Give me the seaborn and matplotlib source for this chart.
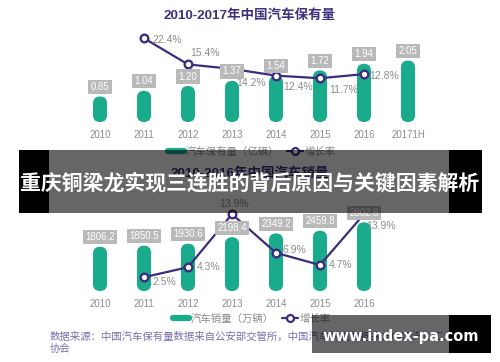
import numpy as np
import pandas as pd
import matplotlib
matplotlib.use("Agg")
import matplotlib.pyplot as plt
import seaborn as sns
from matplotlib.patches import FancyBboxPatch, Rectangle
from matplotlib.lines import Line2D

sns.set_theme(style="white")
plt.rcParams['font.family'] = ['Liberation Sans', 'Noto Sans CJK SC', 'DejaVu Sans']

# ==========================================
# DATA
# ==========================================
own_years = ['2010', '2011', '2012', '2013', '2014', '2015', '2016', '20171H']
own_values = [0.85, 1.04, 1.20, 1.37, 1.54, 1.72, 1.94, 2.05]
own_growth = [np.nan, 22.4, 15.4, 14.2, 12.4, 11.7, 12.8, np.nan]

sales_years = ['2010', '2011', '2012', '2013', '2014', '2015', '2016']
sales_values = [1806.2, 1850.5, 1930.6, 2198.4, 2349.2, 2459.8, 2802.8]
sales_growth = [np.nan, 2.5, 4.3, 13.9, 6.9, 4.7, 13.9]

# label offsets (points) for the growth labels: (dx, dy, ha)
own_lbl = [None, (6, -1, 'left'), (12, 8.5, 'center'), (14, -10, 'center'),
           (16, -8.5, 'center'), (17, -8.5, 'center'), (4, -1.5, 'left'), None]
sales_lbl = [None, (6, -3.5, 'left'), (6, 0, 'left'), (1.5, 7, 'center'),
             (5, 2, 'left'), (6.5, 0, 'left'), (1.5, -8.5, 'left')]

GREEN = '#1aaa8c'
PURPLE = '#3d2c80'
GREY_TXT = '#8c8c8c'
BOX = '#b9b9b9'

W, H = 500, 362
fig = plt.figure(figsize=(W / 100, H / 100), dpi=100)
fig.patch.set_facecolor('white')


def fx(x):
    return x / W


def fy(y):
    return 1 - y / H


def capsules(ax):
    # swap seaborn's rectangles for rounded capsules
    (x0, y0), (x1, y1) = ax.transData.transform([(0, 0), (1, 1)])
    asp = (x1 - x0) / (y1 - y0)
    for p in list(ax.patches):
        x, w, h = p.get_x(), p.get_width(), p.get_height()
        p.remove()
        ax.add_patch(FancyBboxPatch((x, 0), w, h,
                                    boxstyle=f"round,pad=0,rounding_size={w / 2}",
                                    mutation_aspect=asp, fc=GREEN, ec='none', zorder=2))


def panel(base_px, years, values, growth, unit_px, rate_px, fmt, offs):
    ax = fig.add_axes([0, fy(base_px), 1, 100 / H])
    ax.set_facecolor('none')
    sns.barplot(x=years, y=values, color=GREEN, saturation=1, width=0.32, ax=ax)
    ax.set_xlim(-100 / 44, 400 / 44)
    ax.set_ylim(0, 100 / unit_px)
    capsules(ax)
    ax.set_yticks([])
    ax.set_xlabel('')
    ax.tick_params(axis='x', length=0, pad=6, labelsize=7, labelcolor=GREY_TXT)
    sns.despine(ax=ax, left=True, bottom=True)

    ax2 = ax.twinx()
    ax2.set_ylim(0, 100 / rate_px)
    ln = pd.DataFrame({'pos': np.arange(len(years)), 'rate': growth}).dropna()
    sns.lineplot(data=ln, x='pos', y='rate', ax=ax2, color=PURPLE, lw=1.6,
                 marker='o', markersize=5.5, markerfacecolor='white',
                 markeredgecolor=PURPLE, markeredgewidth=1.7)
    ax2.set_yticks([])
    ax2.set_ylabel('')
    ax2.set_xlabel('')
    sns.despine(ax=ax2, left=True, bottom=True, right=True)

    for i, r in enumerate(growth):
        if offs[i] is None:
            continue
        dx, dy, ha = offs[i]
        ax2.annotate(f"{r}%", xy=(i, r), xytext=(dx, dy), textcoords='offset points',
                     ha=ha, va='center', fontsize=7.5, color=GREY_TXT, zorder=5)
    for i, v in enumerate(values):
        ax2.annotate(fmt.format(v), xy=(i, v), xycoords=ax.transData,
                     xytext=(0, 6.8), textcoords='offset points', ha='center', va='center',
                     fontsize=7, color='white', zorder=10,
                     bbox=dict(boxstyle='square,pad=0.22', fc=BOX, ec='none'))
    return ax, ax2


panel(122, own_years, own_values, own_growth, 30, 3.74, "{:.2f}", own_lbl)
panel(291, sales_years, sales_values, sales_growth, 0.0245, 5.53, "{:.1f}", sales_lbl)

# titles
fig.text(0.5, fy(16), '2010-2017年中国汽车保有量', ha='center', va='center',
         fontsize=9.7, weight='bold', color='#3e2f7f')
fig.text(0.5, fy(174), '2010-2016年中国汽车销量', ha='center', va='center',
         fontsize=9.7, weight='bold', color='#3e2f7f')

# legends
def legend(y, first):
    h = [Line2D([0], [0], color=GREEN, lw=4.5, solid_capstyle='round'),
         Line2D([0], [0], color=PURPLE, lw=1.6, marker='o', mfc='white', mec=PURPLE,
                ms=5, mew=1.6)]
    fig.legend(h, [first, '增长率'], loc='center', bbox_to_anchor=(fx(252), fy(y)),
               ncol=2, frameon=False, fontsize=7.5, labelcolor=GREY_TXT,
               handlelength=1.5, handletextpad=0.2, columnspacing=0.8)


legend(152, '汽车保有量（亿辆）')
legend(319, '汽车销量（万辆）')

# source note
fig.text(fx(50), fy(337), '数据来源：中国汽车保有量数据来自公安部交管所，中国汽车销量数据来自中国汽车工业',
         ha='left', va='center', fontsize=7.5, color='#7b6fae', style='italic')
fig.text(fx(50), fy(349), '协会', ha='left', va='center', fontsize=7.5,
         color='#7b6fae', style='italic')

# banner overlay
fig.add_artist(Rectangle((fx(19), fy(213)), fx(30), (213 - 150) / H,
                         transform=fig.transFigure, fc='black', ec='none', zorder=20))
fig.add_artist(Rectangle((fx(449), fy(213)), fx(33), (213 - 150) / H,
                         transform=fig.transFigure, fc='black', ec='none', zorder=20))
fig.add_artist(Rectangle((fx(49), fy(213)), fx(400), (213 - 150) / H,
                         transform=fig.transFigure, fc='black', alpha=0.6, ec='none', zorder=20))
fig.text(fx(250), fy(183), '重庆铜梁龙实现三连胜的背后原因与关键因素解析', ha='center', va='center',
         fontsize=15, weight='bold', color='white', family=['Noto Sans CJK SC'], zorder=21)

# site watermark
fig.add_artist(Rectangle((fx(312), fy(353)), fx(137), (353 - 315) / H,
                         transform=fig.transFigure, fc='black', alpha=0.6, ec='none', zorder=20))
fig.add_artist(Rectangle((fx(449), fy(353)), fx(42), (353 - 315) / H,
                         transform=fig.transFigure, fc='black', ec='none', zorder=20))
fig.text(fx(401), fy(336), 'www.index-pa.com', ha='center', va='center', fontsize=10.5,
         weight='bold', color='white', family=['DejaVu Sans'], zorder=21)

plt.savefig('out.png', dpi=100)
